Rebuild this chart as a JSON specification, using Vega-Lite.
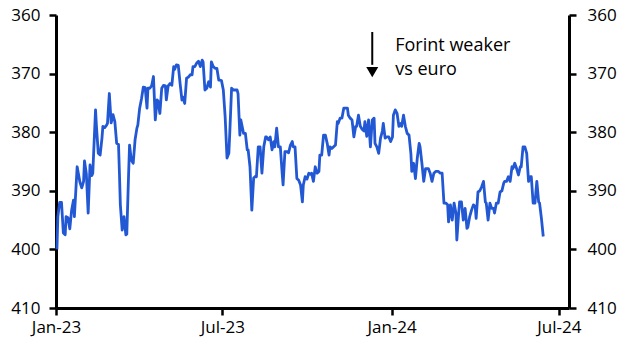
{
  "$schema": "https://vega.github.io/schema/vega-lite/v6.json",
  "width": 513,
  "height": 293,
  "autosize": {"type": "none"},
  "padding": {"left": 56, "top": 15, "right": 61, "bottom": 47},
  "background": "white",
  "config": {
    "view": {"stroke": null},
    "font": "Open Sans",
    "axis": {
      "domainColor": "black",
      "domainWidth": 3,
      "tickColor": "black",
      "tickWidth": 2.5,
      "tickSize": 7,
      "labelFontSize": 17,
      "labelColor": "black",
      "labelFont": "Open Sans",
      "grid": false,
      "title": null
    }
  },
  "datasets": {
    "fx": [
      {"date":"2023-01-02","rate":400.0},{"date":"2023-01-03","rate":394.4},{"date":"2023-01-05","rate":392.0},{"date":"2023-01-07","rate":392.0},{"date":"2023-01-09","rate":397.2},{"date":"2023-01-11","rate":397.5},{"date":"2023-01-12","rate":394.4},{"date":"2023-01-14","rate":394.6},{"date":"2023-01-16","rate":396.5},{"date":"2023-01-18","rate":393.3},{"date":"2023-01-20","rate":391.6},{"date":"2023-01-21","rate":394.4},{"date":"2023-01-24","rate":385.9},{"date":"2023-01-27","rate":388.5},{"date":"2023-01-29","rate":389.5},{"date":"2023-01-31","rate":388.4},
      {"date":"2023-02-01","rate":384.9},{"date":"2023-02-03","rate":387.1},{"date":"2023-02-05","rate":393.8},{"date":"2023-02-07","rate":385.6},{"date":"2023-02-09","rate":387.4},{"date":"2023-02-10","rate":387.0},{"date":"2023-02-13","rate":376.2},{"date":"2023-02-14","rate":379.0},{"date":"2023-02-16","rate":383.6},{"date":"2023-02-18","rate":383.9},{"date":"2023-02-20","rate":381.0},{"date":"2023-02-21","rate":379.0},{"date":"2023-02-23","rate":379.2},{"date":"2023-02-25","rate":378.8},{"date":"2023-02-26","rate":378.5},{"date":"2023-02-28","rate":373.4},
      {"date":"2023-03-02","rate":378.4},{"date":"2023-03-04","rate":377.0},{"date":"2023-03-06","rate":378.2},{"date":"2023-03-08","rate":381.9},{"date":"2023-03-10","rate":382.1},{"date":"2023-03-11","rate":387.0},{"date":"2023-03-12","rate":392.4},{"date":"2023-03-14","rate":396.7},{"date":"2023-03-16","rate":394.4},{"date":"2023-03-18","rate":397.5},{"date":"2023-03-19","rate":397.4},{"date":"2023-03-21","rate":387.0},{"date":"2023-03-22","rate":382.2},{"date":"2023-03-24","rate":384.8},{"date":"2023-03-26","rate":385.3},{"date":"2023-03-28","rate":381.3},{"date":"2023-03-30","rate":379.3},{"date":"2023-03-31","rate":378.8},
      {"date":"2023-04-02","rate":375.9},{"date":"2023-04-04","rate":374.3},{"date":"2023-04-06","rate":372.3},{"date":"2023-04-08","rate":372.4},{"date":"2023-04-10","rate":375.9},{"date":"2023-04-11","rate":372.5},{"date":"2023-04-13","rate":372.5},{"date":"2023-04-15","rate":372.1},{"date":"2023-04-17","rate":370.5},{"date":"2023-04-19","rate":377.9},{"date":"2023-04-21","rate":374.5},{"date":"2023-04-22","rate":374.7},{"date":"2023-04-24","rate":376.8},{"date":"2023-04-26","rate":372.5},{"date":"2023-04-28","rate":372.0},{"date":"2023-04-30","rate":372.1},
      {"date":"2023-05-01","rate":374.5},{"date":"2023-05-03","rate":372.1},{"date":"2023-05-05","rate":371.7},{"date":"2023-05-07","rate":372.0},{"date":"2023-05-09","rate":368.8},{"date":"2023-05-10","rate":369.3},{"date":"2023-05-12","rate":368.5},{"date":"2023-05-14","rate":368.6},{"date":"2023-05-16","rate":371.7},{"date":"2023-05-18","rate":374.5},{"date":"2023-05-19","rate":374.0},{"date":"2023-05-21","rate":375.1},{"date":"2023-05-23","rate":370.8},{"date":"2023-05-25","rate":370.6},{"date":"2023-05-27","rate":370.2},{"date":"2023-05-29","rate":370.2},{"date":"2023-05-30","rate":368.8},
      {"date":"2023-06-01","rate":368.8},{"date":"2023-06-03","rate":368.2},{"date":"2023-06-05","rate":367.9},{"date":"2023-06-07","rate":368.8},{"date":"2023-06-09","rate":367.7},{"date":"2023-06-10","rate":368.0},{"date":"2023-06-12","rate":372.8},{"date":"2023-06-14","rate":372.5},{"date":"2023-06-16","rate":371.4},{"date":"2023-06-18","rate":372.3},{"date":"2023-06-19","rate":368.0},{"date":"2023-06-21","rate":368.8},{"date":"2023-06-23","rate":369.1},{"date":"2023-06-25","rate":369.1},{"date":"2023-06-27","rate":371.1},{"date":"2023-06-28","rate":371.1},{"date":"2023-06-30","rate":371.2},
      {"date":"2023-07-02","rate":372.8},{"date":"2023-07-04","rate":377.4},{"date":"2023-07-06","rate":384.4},{"date":"2023-07-08","rate":383.6},{"date":"2023-07-09","rate":380.2},{"date":"2023-07-11","rate":372.5},{"date":"2023-07-13","rate":372.8},{"date":"2023-07-15","rate":372.8},{"date":"2023-07-17","rate":372.8},{"date":"2023-07-18","rate":373.4},{"date":"2023-07-20","rate":380.5},{"date":"2023-07-21","rate":377.9},{"date":"2023-07-24","rate":380.2},{"date":"2023-07-26","rate":380.2},{"date":"2023-07-28","rate":383.0},{"date":"2023-07-29","rate":383.0},{"date":"2023-07-31","rate":385.9},
      {"date":"2023-08-02","rate":393.3},{"date":"2023-08-04","rate":387.8},{"date":"2023-08-06","rate":387.5},{"date":"2023-08-07","rate":387.6},{"date":"2023-08-09","rate":382.5},{"date":"2023-08-11","rate":382.5},{"date":"2023-08-13","rate":387.0},{"date":"2023-08-15","rate":382.5},{"date":"2023-08-17","rate":380.8},{"date":"2023-08-18","rate":380.8},{"date":"2023-08-20","rate":381.3},{"date":"2023-08-22","rate":380.8},{"date":"2023-08-24","rate":383.0},{"date":"2023-08-26","rate":381.6},{"date":"2023-08-27","rate":382.5},{"date":"2023-08-29","rate":379.3},{"date":"2023-08-31","rate":382.5},
      {"date":"2023-09-02","rate":382.5},{"date":"2023-09-04","rate":387.0},{"date":"2023-09-05","rate":389.0},{"date":"2023-09-07","rate":383.3},{"date":"2023-09-09","rate":383.3},{"date":"2023-09-11","rate":383.5},{"date":"2023-09-13","rate":382.2},{"date":"2023-09-15","rate":381.6},{"date":"2023-09-16","rate":382.5},{"date":"2023-09-18","rate":382.5},{"date":"2023-09-20","rate":387.9},{"date":"2023-09-22","rate":388.2},{"date":"2023-09-24","rate":389.0},{"date":"2023-09-26","rate":391.9},{"date":"2023-09-27","rate":389.0},{"date":"2023-09-29","rate":387.6},
      {"date":"2023-10-01","rate":388.0},{"date":"2023-10-03","rate":387.0},{"date":"2023-10-05","rate":387.2},{"date":"2023-10-06","rate":387.0},{"date":"2023-10-08","rate":388.4},{"date":"2023-10-10","rate":385.9},{"date":"2023-10-12","rate":387.0},{"date":"2023-10-14","rate":386.7},{"date":"2023-10-15","rate":383.9},{"date":"2023-10-17","rate":383.9},{"date":"2023-10-19","rate":380.5},{"date":"2023-10-21","rate":380.5},{"date":"2023-10-23","rate":381.9},{"date":"2023-10-25","rate":383.9},{"date":"2023-10-26","rate":382.5},{"date":"2023-10-28","rate":382.8},{"date":"2023-10-30","rate":382.5},
      {"date":"2023-11-01","rate":382.2},{"date":"2023-11-03","rate":378.2},{"date":"2023-11-04","rate":378.5},{"date":"2023-11-06","rate":377.6},{"date":"2023-11-08","rate":377.6},{"date":"2023-11-10","rate":375.9},{"date":"2023-11-12","rate":375.9},{"date":"2023-11-14","rate":375.9},{"date":"2023-11-15","rate":377.1},{"date":"2023-11-17","rate":377.6},{"date":"2023-11-19","rate":377.9},{"date":"2023-11-21","rate":380.8},{"date":"2023-11-23","rate":379.0},{"date":"2023-11-24","rate":379.0},{"date":"2023-11-26","rate":377.1},{"date":"2023-11-28","rate":379.0},{"date":"2023-11-30","rate":379.5},
      {"date":"2023-12-02","rate":379.8},{"date":"2023-12-03","rate":378.2},{"date":"2023-12-05","rate":380.7},{"date":"2023-12-07","rate":377.9},{"date":"2023-12-09","rate":382.5},{"date":"2023-12-11","rate":377.9},{"date":"2023-12-13","rate":377.6},{"date":"2023-12-14","rate":381.9},{"date":"2023-12-16","rate":382.5},{"date":"2023-12-18","rate":383.6},{"date":"2023-12-20","rate":381.0},{"date":"2023-12-22","rate":379.8},{"date":"2023-12-23","rate":378.5},{"date":"2023-12-25","rate":381.0},{"date":"2023-12-27","rate":380.8},{"date":"2023-12-29","rate":380.8},{"date":"2023-12-31","rate":381.6},
      {"date":"2024-01-02","rate":380.8},{"date":"2024-01-03","rate":377.1},{"date":"2024-01-05","rate":376.2},{"date":"2024-01-07","rate":376.8},{"date":"2024-01-09","rate":379.0},{"date":"2024-01-11","rate":378.5},{"date":"2024-01-12","rate":379.0},{"date":"2024-01-14","rate":377.1},{"date":"2024-01-16","rate":379.0},{"date":"2024-01-18","rate":380.2},{"date":"2024-01-20","rate":380.5},{"date":"2024-01-22","rate":383.6},{"date":"2024-01-23","rate":386.7},{"date":"2024-01-25","rate":385.3},{"date":"2024-01-27","rate":387.9},{"date":"2024-01-29","rate":384.4},{"date":"2024-01-31","rate":381.9},
      {"date":"2024-02-01","rate":382.5},{"date":"2024-02-03","rate":385.3},{"date":"2024-02-05","rate":388.4},{"date":"2024-02-07","rate":386.2},{"date":"2024-02-09","rate":386.2},{"date":"2024-02-10","rate":386.2},{"date":"2024-02-12","rate":387.0},{"date":"2024-02-14","rate":388.4},{"date":"2024-02-16","rate":387.0},{"date":"2024-02-18","rate":386.7},{"date":"2024-02-20","rate":386.7},{"date":"2024-02-21","rate":386.7},{"date":"2024-02-23","rate":387.0},{"date":"2024-02-25","rate":387.0},{"date":"2024-02-27","rate":392.1},{"date":"2024-02-29","rate":392.1},
      {"date":"2024-03-02","rate":392.4},{"date":"2024-03-03","rate":395.3},{"date":"2024-03-05","rate":392.4},{"date":"2024-03-07","rate":395.0},{"date":"2024-03-09","rate":392.1},{"date":"2024-03-11","rate":393.8},{"date":"2024-03-12","rate":398.4},{"date":"2024-03-14","rate":393.8},{"date":"2024-03-15","rate":391.9},{"date":"2024-03-17","rate":391.9},{"date":"2024-03-19","rate":395.0},{"date":"2024-03-21","rate":393.0},{"date":"2024-03-23","rate":396.4},{"date":"2024-03-24","rate":396.2},{"date":"2024-03-26","rate":394.4},{"date":"2024-03-28","rate":393.3},{"date":"2024-03-30","rate":392.4},
      {"date":"2024-04-01","rate":392.7},{"date":"2024-04-02","rate":394.7},{"date":"2024-04-04","rate":390.2},{"date":"2024-04-06","rate":390.0},{"date":"2024-04-08","rate":389.3},{"date":"2024-04-10","rate":388.4},{"date":"2024-04-12","rate":391.9},{"date":"2024-04-13","rate":392.1},{"date":"2024-04-15","rate":395.0},{"date":"2024-04-17","rate":392.1},{"date":"2024-04-19","rate":393.0},{"date":"2024-04-21","rate":393.0},{"date":"2024-04-22","rate":393.8},{"date":"2024-04-24","rate":392.1},{"date":"2024-04-26","rate":392.1},{"date":"2024-04-28","rate":390.2},{"date":"2024-04-30","rate":390.0},
      {"date":"2024-05-02","rate":388.7},{"date":"2024-05-03","rate":388.4},{"date":"2024-05-05","rate":388.4},{"date":"2024-05-07","rate":387.6},{"date":"2024-05-09","rate":388.4},{"date":"2024-05-11","rate":385.9},{"date":"2024-05-12","rate":386.2},{"date":"2024-05-14","rate":385.3},{"date":"2024-05-16","rate":386.2},{"date":"2024-05-18","rate":387.3},{"date":"2024-05-20","rate":385.9},{"date":"2024-05-21","rate":385.9},{"date":"2024-05-23","rate":382.5},{"date":"2024-05-25","rate":382.5},{"date":"2024-05-27","rate":383.6},{"date":"2024-05-29","rate":388.4},{"date":"2024-05-31","rate":387.6},
      {"date":"2024-06-01","rate":387.6},{"date":"2024-06-03","rate":392.1},{"date":"2024-06-05","rate":392.1},{"date":"2024-06-07","rate":388.4},{"date":"2024-06-09","rate":391.9},{"date":"2024-06-10","rate":392.1},{"date":"2024-06-12","rate":394.7},{"date":"2024-06-14","rate":397.8}
    ],
    "arrow": [
      {"date": "2023-12-11", "top": 362.9, "tail": 368.5, "head": 369.75}
    ],
    "note": [
      {"date": "2024-01-05", "rate": 366.1, "label": "Forint weaker"},
      {"date": "2024-01-05", "rate": 370.2, "label": "vs euro"}
    ]
  },
  "encoding": {
    "x": {
      "field": "date", "type": "temporal", "title": null,
      "scale": {"type": "utc", "domain": [{"year": 2023, "month": 1, "date": 1, "utc": true}, {"year": 2024, "month": 7, "date": 12, "utc": true}]},
      "axis": {
        "values": [{"year": 2023, "month": 1, "date": 1, "utc": true}, {"year": 2023, "month": 7, "date": 1, "utc": true}, {"year": 2024, "month": 1, "date": 1, "utc": true}, {"year": 2024, "month": 7, "date": 1, "utc": true}],
        "labelExpr": "utcFormat(datum.value, '%b-%y')", "labelPadding": 4, "labelFlush": false, "labelOverlap": false
      }
    }
  },
  "layer": [
    {
      "data": {"name": "fx"},
      "mark": {"type": "line", "color": "#2258d4", "strokeWidth": 2.8, "strokeJoin": "round"},
      "encoding": {
        "y": {
          "field": "rate", "type": "quantitative", "title": null,
          "scale": {"domain": [360, 410], "reverse": true, "nice": false, "zero": false},
          "axis": {"orient": "left", "values": [360, 370, 380, 390, 400, 410], "labelPadding": 9}
        }
      }
    },
    {
      "data": {"name": "fx"},
      "mark": {"type": "line", "opacity": 0},
      "encoding": {
        "y": {
          "field": "rate", "type": "quantitative", "title": null,
          "axis": {"orient": "right", "values": [360, 370, 380, 390, 400, 410], "labelPadding": 11}
        }
      }
    },
    {
      "data": {"name": "arrow"},
      "mark": {"type": "rule", "color": "black", "strokeWidth": 2},
      "encoding": {
        "y": {"field": "top", "type": "quantitative", "axis": null},
        "y2": {"field": "tail"}
      }
    },
    {
      "data": {"name": "arrow"},
      "mark": {"type": "point", "shape": "triangle-down", "filled": true, "color": "black", "size": 144, "opacity": 1},
      "encoding": {
        "y": {"field": "head", "type": "quantitative", "axis": null}
      }
    },
    {
      "data": {"name": "note"},
      "mark": {"type": "text", "align": "left", "baseline": "alphabetic", "fontSize": 18, "color": "black", "font": "Open Sans"},
      "encoding": {
        "y": {"field": "rate", "type": "quantitative", "axis": null},
        "text": {"field": "label", "type": "nominal"}
      }
    }
  ],
  "resolve": {"axis": {"y": "independent"}}
}
